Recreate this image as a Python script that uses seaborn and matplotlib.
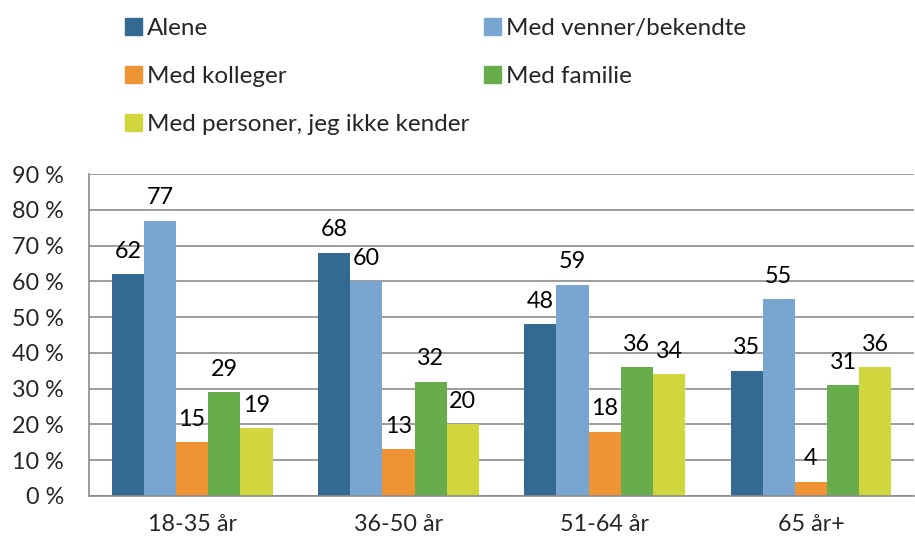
import matplotlib
matplotlib.use("Agg")
import matplotlib.pyplot as plt
import pandas as pd
import seaborn as sns
from matplotlib.patches import Patch

# data
groups = ['18-35 år', '36-50 år', '51-64 år', '65 år+']
series = ['Alene', 'Med venner/bekendte', 'Med kolleger', 'Med familie',
          'Med personer, jeg ikke kender']
alene = [62, 68, 48, 35]
venner = [77, 60, 59, 55]
kolleger = [15, 13, 18, 4]
familie = [29, 32, 36, 31]
ukendte = [19, 20, 34, 36]
colors = ['#336a91', '#78a6d0', '#ee9434', '#68ad4b', '#d0d63c']

rows = []
for name, vals in zip(series, [alene, venner, kolleger, familie, ukendte]):
    for g, v in zip(groups, vals):
        rows.append({'group': g, 'series': name, 'value': v})
df = pd.DataFrame(rows)

sns.set_style('white')
plt.rcParams['font.family'] = ['Lato', 'DejaVu Sans']
FS = 16.8
LFS = 17.5

fig = plt.figure(figsize=(9.15, 5.41), dpi=100)
ax = fig.add_axes([0.0973, 0.0832, 0.9017, 0.5950])

sns.barplot(data=df, x='group', y='value', hue='series', order=groups,
            hue_order=series, palette=colors, width=0.78, saturation=1,
            legend=False, ax=ax, linewidth=0)

for cont in ax.containers:
    for bar in cont:
        h = bar.get_height()
        ax.annotate(f'{h:.0f}', (bar.get_x() + bar.get_width() / 2, h),
                    xytext=(0, 9), textcoords='offset points',
                    ha='center', va='bottom', fontsize=FS, color='black')

ax.set_ylim(0, 90)
ax.set_xlim(-0.5, 3.5)
ax.set_yticks(range(0, 91, 10))
ax.set_yticklabels([f'{t} %' for t in range(0, 91, 10)], fontsize=FS)
ax.set_xticklabels(groups, fontsize=FS)
ax.set_xlabel('')
ax.set_ylabel('')
ax.yaxis.grid(True, color='#8c8c8c', linewidth=1.2)
ax.set_axisbelow(True)
for s in ['top', 'right']:
    ax.spines[s].set_visible(False)
for s in ['left', 'bottom']:
    ax.spines[s].set_color('#8c8c8c')
    ax.spines[s].set_linewidth(1.2)
ax.tick_params(axis='x', which='major', length=0, pad=13)
ax.tick_params(axis='y', length=0, pad=18)
ax.set_xticks([-0.5, 0.5, 1.5, 2.5, 3.5], minor=True)
ax.tick_params(axis='x', which='minor', length=7, color='#8c8c8c', width=1.2)

handles = [Patch(color=c) for c in colors]
common = dict(frameon=False, fontsize=LFS, handlelength=0.7, handleheight=0.7,
              handletextpad=0.2, labelspacing=1.1, borderaxespad=0, borderpad=0)
leg1 = fig.legend([handles[0], handles[2], handles[4]],
                  [series[0], series[2], series[4]],
                  loc='upper left', bbox_to_anchor=(0.137, 0.966), **common)
leg2 = fig.legend([handles[1], handles[3]], [series[1], series[3]],
                  loc='upper left', bbox_to_anchor=(0.529, 0.966), **common)

fig.savefig('out.png', dpi=100)
